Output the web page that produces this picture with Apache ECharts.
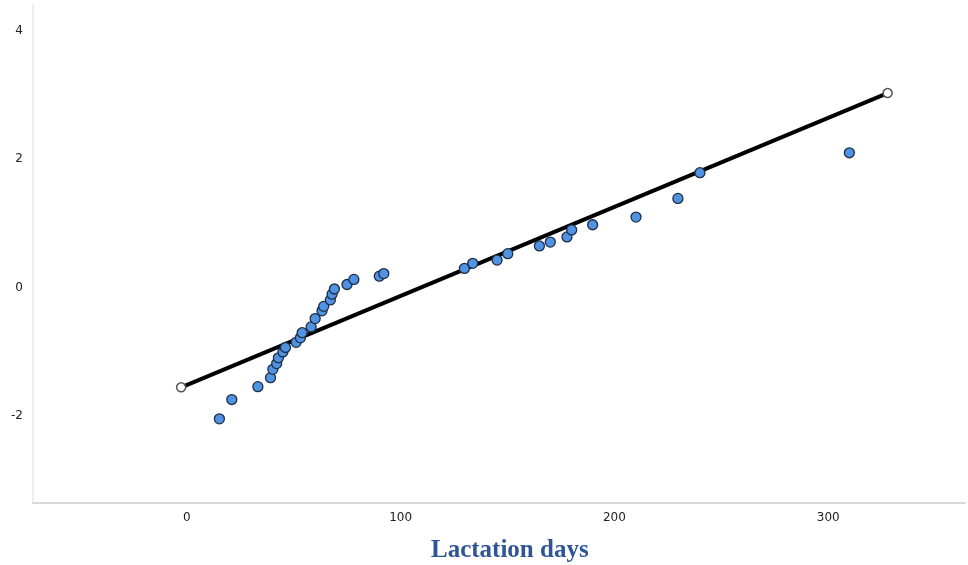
<!DOCTYPE html>
<html>
<head>
<meta charset="utf-8">
<script src="https://cdn.jsdelivr.net/npm/echarts@6/dist/echarts.min.js"></script>
<style>
html,body{margin:0;padding:0;background:#fff;}
#chart{width:968px;height:565px;}
</style>
</head>
<body>
<div id="chart"></div>
<script>
// Observed values (lactation days) and expected normal quantiles
var lactationDays = [15.2, 21.0, 33.2, 39.1, 40.2, 42.0, 42.8, 44.9, 46.1, 51.1, 53.1, 53.9, 58.1, 60.0, 63.2, 64.0, 67.1, 67.9, 69.0, 74.9, 78.1, 90.0, 92.1, 129.8, 133.7, 145.1, 150.1, 164.9, 170.0, 177.8, 180.0, 189.8, 210.1, 229.7, 240.0, 309.9];
var expectedNormal = [-2.04, -1.74, -1.54, -1.40, -1.27, -1.18, -1.09, -1.00, -0.93, -0.85, -0.78, -0.70, -0.61, -0.48, -0.36, -0.29, -0.19, -0.10, -0.02, 0.05, 0.13, 0.18, 0.22, 0.30, 0.38, 0.43, 0.53, 0.65, 0.71, 0.79, 0.90, 0.98, 1.10, 1.39, 1.79, 2.10];
// Reference line endpoints
var refLineX = [-2.7, 327.8];
var refLineY = [-1.55, 3.03];
var xTickLabels = [0, 100, 200, 300];
var yTickLabels = [-2, 0, 2, 4];
var axisTitle = 'Lactation days';

var scatterData = lactationDays.map(function (x, i) { return [x, expectedNormal[i]]; });
var lineData = refLineX.map(function (x, i) { return [x, refLineY[i]]; });

var chart = echarts.init(document.getElementById('chart'), null, {renderer: 'canvas'});
chart.setOption({
  animation: false,
  backgroundColor: '#ffffff',
  title: {
    text: axisTitle,
    left: 431,
    top: 538,
    padding: 0,
    textStyle: {fontFamily: 'Liberation Serif', fontWeight: 'bold', fontSize: 25, color: '#2f5597'}
  },
  grid: {left: 33, right: 3, top: 5, bottom: 62, containLabel: false},
  xAxis: {
    type: 'value',
    min: -72, max: 364, interval: 4,
    axisLine: {show: true, onZero: false, lineStyle: {color: '#d9d9d9', width: 2}},
    axisTick: {show: false},
    splitLine: {show: false},
    axisLabel: {
      margin: 9, color: '#222', fontSize: 12, fontFamily: 'DejaVu Sans',
      showMinLabel: false, showMaxLabel: false,
      formatter: function (v) { return xTickLabels.indexOf(Math.round(v)) >= 0 && Math.abs(v - Math.round(v)) < 1e-6 ? String(Math.round(v)) : ''; }
    }
  },
  yAxis: {
    type: 'value',
    min: -3.35, max: 4.4, interval: 0.05,
    axisLine: {show: true, onZero: false, lineStyle: {color: '#eeeeee', width: 2}},
    axisTick: {show: false},
    splitLine: {show: false},
    axisLabel: {
      margin: 10, color: '#222', fontSize: 12, fontFamily: 'DejaVu Sans',
      formatter: function (v) {
        var r = Math.round(v);
        if (Math.abs(v - r) < 1e-6 && yTickLabels.indexOf(r) >= 0) return String(r === 0 ? 0 : r);
        return '';
      }
    }
  },
  series: [
    {
      type: 'line',
      data: lineData,
      z: 2,
      symbol: 'circle',
      symbolSize: 9,
      showAllSymbol: true,
      itemStyle: {color: '#ffffff', borderColor: '#555555', borderWidth: 1.5},
      lineStyle: {color: '#000000', width: 4}
    },
    {
      type: 'scatter',
      data: scatterData,
      z: 3,
      symbol: 'circle',
      symbolSize: 10,
      itemStyle: {color: '#5093e2', borderColor: '#1d2d45', borderWidth: 1.3, opacity: 1}
    }
  ]
});
</script>
</body>
</html>
